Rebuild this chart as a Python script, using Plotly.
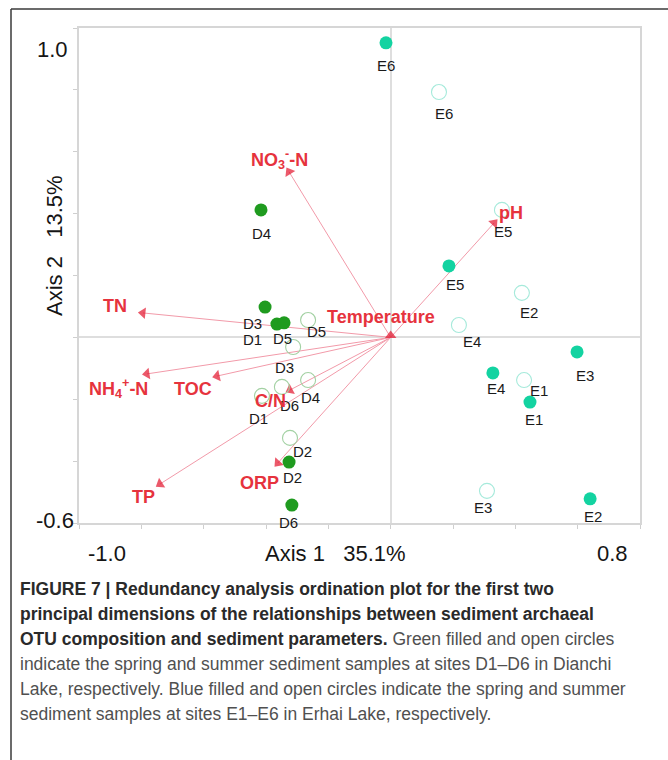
import plotly.graph_objects as go

W, H = 668, 760
ML, MR, MT, MB = 79, 28, 28, 237
PW = W - ML - MR
PH = H - MT - MB


def px(x):
    return (x - ML) / PW


def py(y):
    return (H - MB - y) / PH


# ---------------- data ----------------
d_sites = ["D1", "D2", "D3", "D4", "D5", "D6"]
d_spring_x = [-0.365, -0.326, -0.403, -0.416, -0.342, -0.317]
d_spring_y = [0.043, -0.403, 0.098, 0.412, 0.047, -0.542]
d_summer_x = [-0.413, -0.323, -0.313, -0.265, -0.265, -0.349]
d_summer_y = [-0.189, -0.325, -0.031, -0.138, 0.056, -0.160]

e_sites = ["E1", "E2", "E3", "E4", "E5", "E6"]
e_spring_x = [0.447, 0.640, 0.598, 0.328, 0.187, -0.015]
e_spring_y = [-0.209, -0.522, -0.047, -0.115, 0.231, 0.952]
e_summer_x = [0.428, 0.421, 0.309, 0.219, 0.357, 0.155]
e_summer_y = [-0.138, 0.144, -0.496, 0.040, 0.412, 0.793]

env_names = ["NO<sub>3</sub><sup>-</sup>-N", "pH", "TN", "NH<sub>4</sub><sup>+</sup>-N",
             "TOC", "C/N", "TP", "ORP", "Temperature"]
env_x = [-0.326, 0.332, -0.795, -0.782, -0.557, -0.323, -0.740, -0.362, 0.0]
env_y = [0.535, 0.370, 0.079, -0.118, -0.125, -0.170, -0.474, -0.406, 0.006]

axis1_label = "Axis 1   35.1%"
axis2_label = "Axis 2   13.5%"
x_end_labels = ["-1.0", "0.8"]
y_end_labels = ["1.0", "-0.6"]

REG = '<span style="color:#505050">'
caption_lines = [
    "<b>FIGURE 7 | Redundancy analysis ordination plot for the first two</b>",
    "<b>principal dimensions of the relationships between sediment archaeal</b>",
    "<b>OTU composition and sediment parameters.</b>" + REG + " Green filled and open circles</span>",
    REG + "indicate the spring and summer sediment samples at sites D1–D6 in Dianchi</span>",
    REG + "Lake, respectively. Blue filled and open circles indicate the spring and summer</span>",
    REG + "sediment samples at sites E1–E6 in Erhai Lake, respectively.</span>",
]

# ---------------- styles ----------------
d_spring_off = [(-24, 15), (3, 15), (-13, 16), (0, 24), (-2, 16), (-3, 17)]
d_summer_off = [(-3, 23), (12, 14), (-9, 21), (2, 17), (8, 11), (8, 19)]
e_spring_off = [(4, 17), (3, 18), (8, 24), (3, 16), (6, 19), (0, 23)]
e_summer_off = [(15, 10), (7, 20), (-4, 17), (13, 16), (1, 22), (5, 21)]
env_off = [(-10, -12), (17, -10), (-28, -7), (-28, 15), (-24, 13), (-20, 11),
           (-17, 13), (-18, 20), (-10, -19)]

GREEN = "#1f9b1f"
TEAL = "#13d3a1"
GREEN_OPEN = "#a3d1a3"
TEAL_OPEN = "#a6eadb"
ARROW_LINE = "#f29aa9"
ARROW_HEAD = "#e2132b"
RED_TXT = "#e6333d"
FONT = "Liberation Sans, Arial, sans-serif"

fig = go.Figure()

# environmental vectors
for name, vx, vy in zip(env_names, env_x, env_y):
    fig.add_trace(go.Scatter(
        x=[0, vx], y=[0, vy], mode="lines+markers",
        line=dict(color=ARROW_LINE, width=1),
        marker=dict(symbol="triangle-up", size=[0, 10], color=ARROW_HEAD,
                    angleref="previous", line=dict(width=0)),
        hoverinfo="skip", showlegend=False))

# sample points
fig.add_trace(go.Scatter(x=d_summer_x, y=d_summer_y, mode="markers",
                         marker=dict(symbol="circle-open", size=15,
                                     color=GREEN_OPEN, line=dict(width=1.1)),
                         showlegend=False))
fig.add_trace(go.Scatter(x=e_summer_x, y=e_summer_y, mode="markers",
                         marker=dict(symbol="circle-open", size=15,
                                     color=TEAL_OPEN, line=dict(width=1.1)),
                         showlegend=False))
fig.add_trace(go.Scatter(x=d_spring_x, y=d_spring_y, mode="markers",
                         marker=dict(symbol="circle", size=13, color=GREEN),
                         showlegend=False))
fig.add_trace(go.Scatter(x=e_spring_x, y=e_spring_y, mode="markers",
                         marker=dict(symbol="circle", size=13, color=TEAL),
                         showlegend=False))

annotations = []


def add_labels(sites, xs, ys, offs):
    for s, x, y, (dx, dy) in zip(sites, xs, ys, offs):
        annotations.append(dict(x=x, y=y, xref="x", yref="y", text=s,
                                showarrow=False, xshift=dx, yshift=-dy,
                                xanchor="center", yanchor="middle",
                                font=dict(family=FONT, size=15, color="#1a1a1a")))


add_labels(d_sites, d_spring_x, d_spring_y, d_spring_off)
add_labels(d_sites, d_summer_x, d_summer_y, d_summer_off)
add_labels(e_sites, e_spring_x, e_spring_y, e_spring_off)
add_labels(e_sites, e_summer_x, e_summer_y, e_summer_off)

for name, vx, vy, (dx, dy) in zip(env_names, env_x, env_y, env_off):
    annotations.append(dict(x=vx, y=vy, xref="x", yref="y",
                            text="<b>" + name + "</b>", showarrow=False,
                            xshift=dx, yshift=-dy, xanchor="center", yanchor="middle",
                            font=dict(family=FONT, size=18, color=RED_TXT)))

# axis end labels and titles
axfont = dict(family=FONT, size=22, color="#151515")
annotations += [
    dict(x=px(52), y=py(50), xref="paper", yref="paper", text=y_end_labels[0],
         showarrow=False, xanchor="center", yanchor="middle", font=axfont),
    dict(x=px(55), y=py(520), xref="paper", yref="paper", text=y_end_labels[1],
         showarrow=False, xanchor="center", yanchor="middle", font=axfont),
    dict(x=px(107), y=py(553), xref="paper", yref="paper", text=x_end_labels[0],
         showarrow=False, xanchor="center", yanchor="middle", font=axfont),
    dict(x=px(612), y=py(553), xref="paper", yref="paper", text=x_end_labels[1],
         showarrow=False, xanchor="center", yanchor="middle", font=axfont),
    dict(x=px(335), y=py(553), xref="paper", yref="paper", text=axis1_label,
         showarrow=False, xanchor="center", yanchor="middle", font=axfont),
    dict(x=px(55), y=py(246), xref="paper", yref="paper", text=axis2_label,
         showarrow=False, xanchor="center", yanchor="middle", textangle=-90,
         font=axfont),
]

# caption
cap_font = "Liberation Sans, Arial, sans-serif"
for i, line in enumerate(caption_lines):
    annotations.append(dict(x=px(18), y=py(589 + 25 * i), xref="paper", yref="paper",
                            text=line, showarrow=False, xanchor="left",
                            yanchor="middle", align="left",
                            font=dict(family=cap_font, size=17.5, color="#2a2a2a")))

shapes = [
    dict(type="line", xref="paper", yref="paper", x0=px(11), x1=px(700),
         y0=py(9), y1=py(9), line=dict(color="#3a3a3a", width=1.5)),
    dict(type="line", xref="paper", yref="paper", x0=px(11), x1=px(11),
         y0=py(9), y1=py(800), line=dict(color="#3a3a3a", width=1.5)),
]

axis_common = dict(showgrid=False, zeroline=True, zerolinecolor="#dedede",
                   zerolinewidth=1.5, showline=True, linecolor="#d6d6d6",
                   linewidth=1.5, mirror=True, ticks="outside", ticklen=4,
                   tickcolor="#cfcfcf", tickwidth=1, dtick=0.2,
                   showticklabels=False, fixedrange=True)

fig.update_layout(
    width=W, height=H,
    margin=dict(l=ML, r=MR, t=MT, b=MB),
    paper_bgcolor="white", plot_bgcolor="white",
    xaxis=dict(range=[-1.0, 0.8], tick0=-1.0, **axis_common),
    yaxis=dict(range=[-0.6, 1.0], tick0=-0.6, **axis_common),
    annotations=annotations, shapes=shapes,
    showlegend=False,
)

fig.write_html("out.html")
